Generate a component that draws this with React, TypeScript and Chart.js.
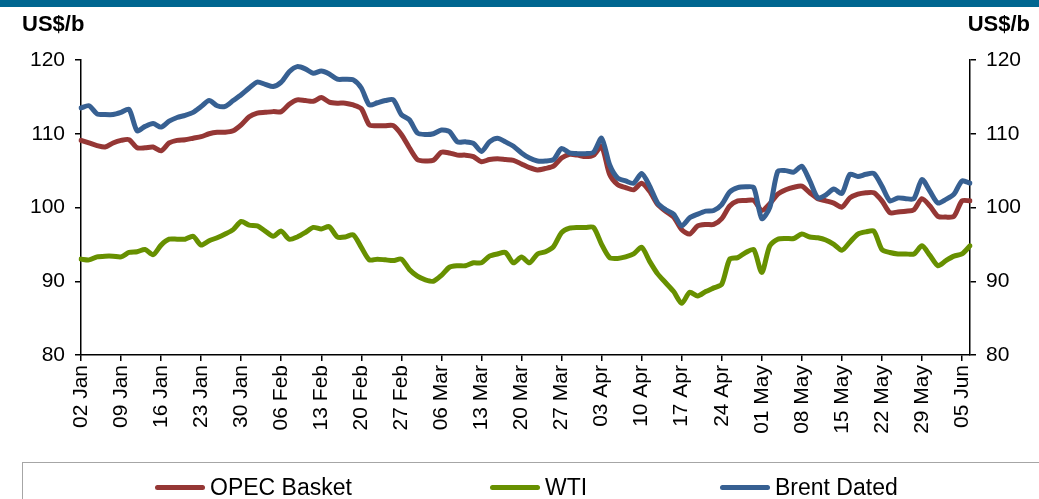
import React, { useEffect, useRef } from "react";
import { Chart, registerables } from "chart.js";

Chart.register(...registerables);

const MONTHS = ["Jan", "Feb", "Mar", "Apr", "May", "Jun"];
const START = Date.UTC(2014, 0, 2);
const END = Date.UTC(2014, 5, 6);

function tradingDays(): string[] {
  const out: string[] = [];
  const d = new Date(START);
  while (d.getTime() <= END) {
    const wd = d.getUTCDay();
    if (wd !== 0 && wd !== 6) {
      const dd = String(d.getUTCDate()).padStart(2, "0");
      out.push(dd + " " + MONTHS[d.getUTCMonth()]);
    }
    d.setUTCDate(d.getUTCDate() + 1);
  }
  return out;
}

const categories = tradingDays();
const TICK_EVERY = 5;

const opecBasket = [
  109.1, 108.75, 108.4, 108.2, 108.75, 109.1, 109.2, 108.1, 108.1, 108.2,
  107.7, 108.75, 109.1, 109.2, 109.4, 109.6, 110.0, 110.2, 110.2, 110.4,
  111.2, 112.3, 112.8, 112.9, 113.0, 113.0, 114.0, 114.6, 114.5, 114.4,
  114.9, 114.3, 114.15, 114.15, 113.9, 113.4, 111.2, 111.1, 111.1, 111.1,
  109.9, 108.1, 106.5, 106.3, 106.4, 107.5, 107.4, 107.1, 107.1, 106.9,
  106.2, 106.5, 106.6, 106.5, 106.4, 105.9, 105.4, 105.1, 105.3, 105.6,
  106.7, 107.2, 107.1, 106.9, 107.1, 108.3, 104.5, 103.1, 102.7, 102.4,
  103.3, 102.2, 100.4, 99.5, 98.7, 97.0, 96.4, 97.5, 97.7, 97.7,
  98.5, 100.2, 100.9, 100.95, 100.95, 99.6, 100.5, 101.8, 102.4, 102.75,
  102.9, 102.0, 101.2, 100.9, 100.6, 100.05, 101.3, 101.8, 102.0, 102.0,
  100.9, 99.3, 99.4, 99.5, 99.7, 101.2, 100.2, 98.8, 98.7, 98.8,
  100.9, 100.9,
];

const wti = [
  93.0, 92.9, 93.3, 93.4, 93.4, 93.3, 93.9, 94.0, 94.3, 93.6,
  94.9, 95.7, 95.7, 95.7, 96.1, 94.9, 95.5, 95.9, 96.4, 97.0,
  98.1, 97.6, 97.5, 96.8, 96.1, 96.8, 95.7, 96.0, 96.6, 97.3,
  97.1, 97.4, 96.0, 96.0, 96.3, 94.6, 92.9, 93.0, 92.9, 92.8,
  93.0, 91.6, 90.7, 90.2, 90.0, 90.8, 91.9, 92.1, 92.1, 92.5,
  92.5, 93.4, 93.7, 93.9, 92.5, 93.3, 92.5, 93.7, 94.0, 94.7,
  96.6, 97.2, 97.3, 97.3, 97.3, 95.0, 93.2, 93.1, 93.3, 93.7,
  94.6, 92.7, 91.0, 89.8, 88.6, 87.0, 88.5, 88.0, 88.6, 89.1,
  89.6, 93.0, 93.2, 93.9, 94.3, 91.2, 94.8, 95.7, 95.8, 95.8,
  96.4, 96.0, 95.9, 95.6, 95.0, 94.2, 95.3, 96.4, 96.7, 96.8,
  94.3, 93.9, 93.7, 93.7, 93.7, 94.8, 93.5, 92.1, 92.8, 93.4,
  93.7, 94.8,
];

const brentDated = [
  113.5, 113.8, 112.7, 112.6, 112.6, 112.9, 113.3, 110.4, 111.0, 111.4,
  110.9, 111.7, 112.2, 112.5, 112.9, 113.7, 114.5, 113.8, 113.7, 114.5,
  115.3, 116.2, 117.0, 116.7, 116.4, 117.0, 118.4, 119.1, 118.8, 118.2,
  118.5, 118.1, 117.4, 117.4, 117.3, 116.2, 113.9, 114.2, 114.5, 114.6,
  112.6, 111.9, 110.1, 109.9, 110.0, 110.5, 110.3, 108.9, 108.9, 108.7,
  107.6, 108.9, 109.4, 108.9, 108.3, 107.4, 106.7, 106.3, 106.3, 106.5,
  108.0, 107.4, 107.3, 107.3, 107.5, 109.4, 105.8, 104.0, 103.6, 103.3,
  104.6, 102.9, 100.6, 99.7, 99.1, 97.5, 98.6, 99.1, 99.5, 99.6,
  100.4, 102.1, 102.7, 102.8, 102.7, 98.5, 100.0, 104.9, 105.0, 104.8,
  105.6, 103.6, 101.3, 101.7, 102.5, 101.9, 104.5, 104.2, 104.5, 104.6,
  102.9, 100.9, 101.3, 101.2, 101.2, 103.8, 102.2, 100.6, 101.1, 101.8,
  103.6, 103.3,
];

const Y_MIN = 80;
const Y_MAX = 120;
const Y_STEP = 10;

const COLORS = {
  opec: "#953735",
  wti: "#679000",
  brent: "#376092",
};

const FONT = "'Liberation Sans', Arial, sans-serif";

export default function App() {
  const ref = useRef<HTMLCanvasElement | null>(null);

  useEffect(() => {
    if (!ref.current) return;
    const axisCommon = {
      min: Y_MIN,
      max: Y_MAX,
      ticks: {
        stepSize: Y_STEP,
        color: "#000",
        font: { family: FONT, size: 21 },
        padding: 10,
      },
      grid: { drawOnChartArea: false, drawTicks: true, tickLength: 6, color: "#000", lineWidth: 1.5 },
      border: { color: "#000", width: 1.5 },
    };
    const chart = new Chart(ref.current, {
      type: "line",
      data: {
        labels: categories,
        datasets: [
          {
            label: "OPEC Basket",
            data: opecBasket,
            borderColor: COLORS.opec,
            backgroundColor: COLORS.opec,
            borderWidth: 5,
            pointRadius: 0,
            tension: 0.25,
            order: 1,
            yAxisID: "y",
          },
          {
            label: "WTI",
            data: wti,
            borderColor: COLORS.wti,
            backgroundColor: COLORS.wti,
            borderWidth: 5,
            pointRadius: 0,
            tension: 0.25,
            order: 2,
            yAxisID: "y",
          },
          {
            label: "Brent Dated",
            data: brentDated,
            borderColor: COLORS.brent,
            backgroundColor: COLORS.brent,
            borderWidth: 5,
            pointRadius: 0,
            tension: 0.25,
            order: 0,
            yAxisID: "y",
          },
        ],
      },
      options: {
        animation: false,
        responsive: false,
        maintainAspectRatio: false,
        devicePixelRatio: 1,
        layout: { padding: { left: 0, right: 0, top: 60, bottom: 44 } },
        plugins: { legend: { display: false }, tooltip: { enabled: false }, title: { display: false } },
        elements: { line: { borderCapStyle: "round", borderJoinStyle: "round" } },
        scales: {
          x: {
            type: "category",
            offset: false,
            ticks: {
              autoSkip: false,
              maxRotation: 90,
              minRotation: 90,
              color: "#000",
              font: { family: FONT, size: 21 },
              padding: 4,
              callback: (_v: any, i: number) => (i % TICK_EVERY === 0 ? categories[i] : null),
            },
            grid: { drawOnChartArea: false, drawTicks: true, tickLength: 6, color: "#000", lineWidth: 1.5, offset: false },
            border: { color: "#000", width: 1.5 },
            afterFit: (s: any) => {
              s.height = 100;
            },
          },
          y: {
            ...axisCommon,
            position: "left",
            afterFit: (s: any) => {
              s.width = 81;
            },
          },
          y1: {
            ...axisCommon,
            position: "right",
            afterFit: (s: any) => {
              s.width = 69;
            },
          },
        } as any,
      },
    });
    return () => chart.destroy();
  }, []);

  const legendItem = (color: string, text: string, left: number) => (
    <div style={{ position: "absolute", left, top: 0, height: 50, display: "flex", alignItems: "center" }}>
      <span style={{ display: "inline-block", width: 50, height: 5, borderRadius: 3, background: color, marginRight: 5, marginTop: -2 }} />
      <span style={{ fontFamily: FONT, fontSize: 23, color: "#000", marginTop: -2 }}>{text}</span>
    </div>
  );

  return (
    <div style={{ position: "absolute", left: 0, top: 0, width: 1039, height: 499, overflow: "hidden", background: "#fff" }}>
      <div style={{ position: "absolute", left: 0, top: 0, width: 1039, height: 7, background: "#006690" }} />
      <canvas ref={ref} width={1039} height={499} style={{ position: "absolute", left: 0, top: 0, width: 1039, height: 499 }} />
      <div style={{ position: "absolute", left: 22, top: 11, fontFamily: FONT, fontWeight: "bold", fontSize: 22, color: "#000" }}>US$/b</div>
      <div style={{ position: "absolute", right: 9, top: 11, fontFamily: FONT, fontWeight: "bold", fontSize: 22, color: "#000" }}>US$/b</div>
      <div style={{ position: "absolute", left: 22, top: 462, width: 1040, height: 60, border: "1px solid #a6a6a6", boxSizing: "border-box" }}>
        {legendItem(COLORS.opec, "OPEC Basket", 132)}
        {legendItem(COLORS.wti, "WTI", 467)}
        {legendItem(COLORS.brent, "Brent Dated", 697)}
      </div>
    </div>
  );
}
